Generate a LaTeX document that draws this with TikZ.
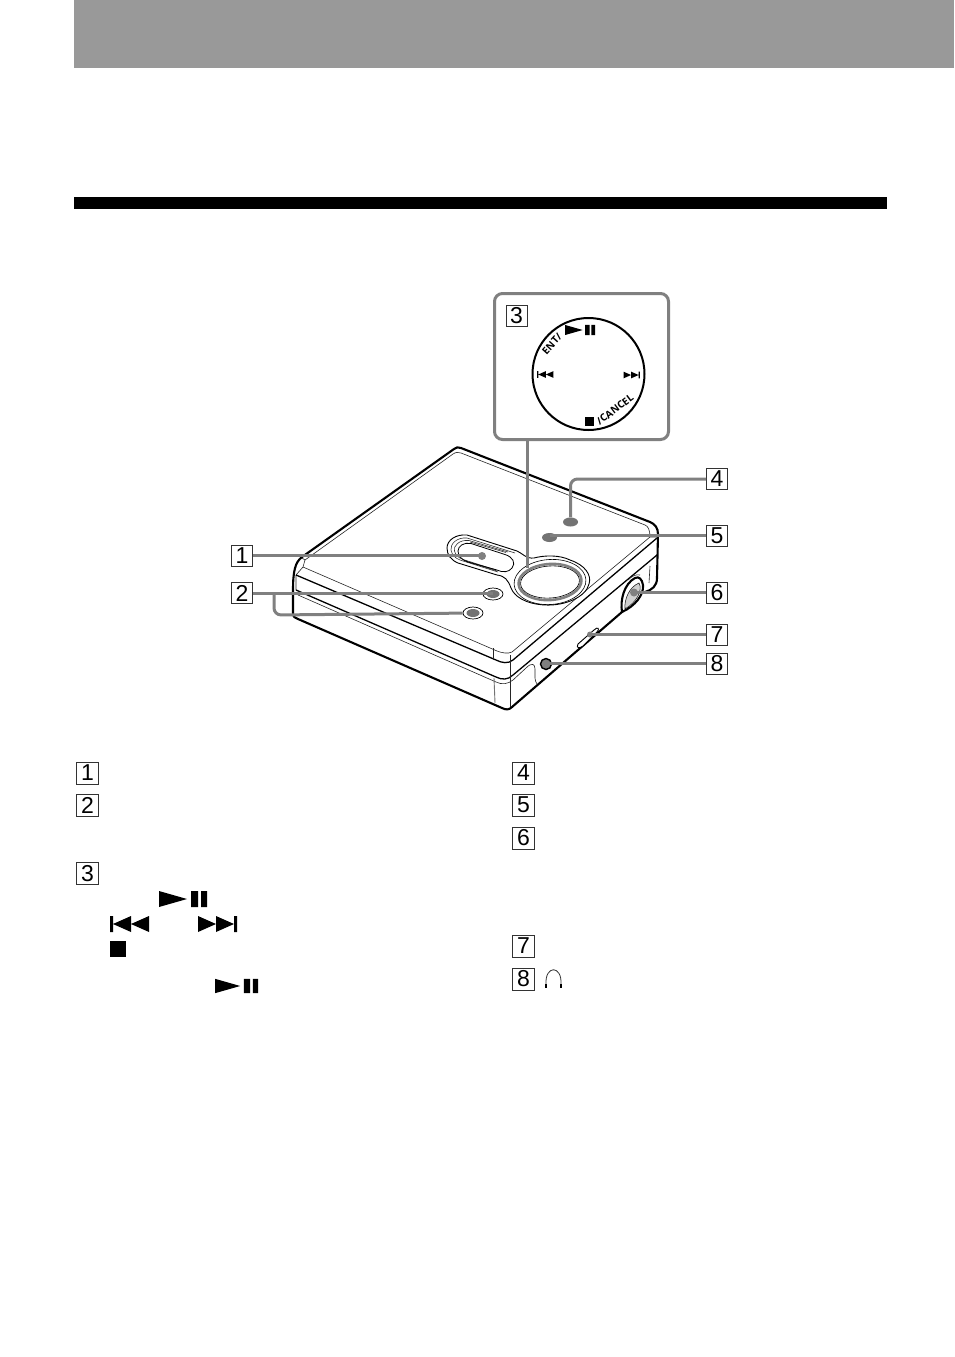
\documentclass[tikz,border=0pt]{standalone}
\usepackage{fontspec}
\setmainfont{Liberation Sans}
\newfontfamily\dialfont{Open Sans}
\usetikzlibrary{shapes.geometric}
\tikzset{
 devline/.style={black,line width=2.1pt,line join=round,line cap=round},
 thinline/.style={black!85,line width=.6pt,line join=round},
 midline/.style={black,line width=1.3pt,line join=round},
 leader/.style={black!50,line width=3pt,rounded corners=7pt},
 numbox/.style={draw=black!80,line width=1pt,fill=white,minimum width=21pt,minimum height=21pt,inner sep=0pt,font=\fontsize{23}{23}\selectfont},
 listbox/.style={numbox,minimum width=22pt,minimum height=22pt},
 btn/.style={ellipse,draw=black,line width=.7pt,fill=white,minimum width=20pt,minimum height=12pt,inner sep=0pt},
 btnface/.style={ellipse,fill=black!55,minimum width=15pt,minimum height=9pt,inner sep=0pt},
 dotn/.style={circle,fill=black!50,minimum size=8pt,inner sep=0pt},
 dialtext/.style={font=\dialfont\bfseries\fontsize{10}{10}\selectfont,inner sep=0pt}
}
\newcommand{\playpause}[3]{\fill[black,shift={(#1,#2)},scale=#3] (0,-8)--(0,8)--(28,0)--cycle (32,-8) rectangle (39,8) (42,-8) rectangle (48,8);}
\newcommand{\nexttr}[3]{\fill[black,shift={(#1,#2)},scale=#3] (0,-8)--(0,8)--(18,0)--cycle (18,-8)--(18,8)--(36,0)--cycle (36,-8) rectangle (39,8);}
\newcommand{\prevtr}[3]{\fill[black,shift={(#1,#2)},scale=#3] (39,-8)--(39,8)--(21,0)--cycle (21,-8)--(21,8)--(3,0)--cycle (0,-8) rectangle (3,8);}
\begin{document}
\begin{tikzpicture}[x=1pt,y=-1pt]
\useasboundingbox (0,0) rectangle (954,1357);
\fill[white] (0,0) rectangle (954,1357);
% header
\fill[black!40] (74,0) rectangle (954,68);
\fill[black] (74,197) rectangle (887,209);
% device outline
\draw[devline] (302,557) -- (454,449) .. controls (456,447) and (458,447) .. (461,448) -- (650,522) .. controls (655,524) and (658,528) .. (658,534) -- (657,578) .. controls (657,586) and (652,590) .. (645,592);
\draw[devline] (302,557) .. controls (295,562) and (293,572) .. (293,590) -- (293,613) .. controls (293,617) and (295,618) .. (298,619) -- (502,708) .. controls (506,710) and (509,710) .. (512,707) -- (622,612);
% lid: thin line
\draw[thinline] (305,560) -- (453,454) .. controls (456,452) and (458,452) .. (461,453) -- (645,525) .. controls (648,526) and (650,530) .. (650,537);
\draw[thinline] (302,558) -- (305,560) -- (303,567) -- (296,575) -- (296,590);
\draw[thinline] (303,567) -- (497,651) .. controls (502,653) and (508,654) .. (512,652) -- (650,537) -- (657,537);
% lid lower edge
\draw[midline] (296,575) -- (496,660) .. controls (502,663) and (508,664) .. (513,660) -- (657,538);
\draw[midline] (296,590) -- (496,677) .. controls (502,680) and (508,680) .. (513,675) -- (657,555);
\draw[thinline] (298,595) -- (496,682) .. controls (502,685) and (508,684) .. (513,680) -- (526,668) .. controls (532,662) and (535,664) .. (535,669) -- (535,678) .. controls (535,681) and (536,682) .. (537,684);
\draw[thinline] (493,648) -- (493,660);
\draw[black!55,line width=.9pt] (494,678) -- (495,703);
\draw[thinline] (510,655) -- (510,707);
\draw[thinline] (650,566) -- (649,583);
% window and dial pad
\draw[line width=.9pt,fill=white] (447,548) .. controls (447,540) and (456,534) .. (467,535) -- (517,551) .. controls (522,553) and (526,559) .. (534,558) .. controls (545,555) and (560,555) .. (570,560) .. controls (585,565) and (592,575) .. (589,584) .. controls (586,597) and (565,606) .. (545,605) .. controls (525,604) and (514,596) .. (511,588) .. controls (508,580) and (505,576) .. (497,575) -- (458,563) .. controls (451,560) and (447,555) .. (447,548) -- cycle;
\draw[black!80,line width=.6pt] (515,553) -- (467,538) .. controls (457,537) and (450,544) .. (451,550) .. controls (452,555) and (455,558) .. (460,560) -- (498,572);
\draw[black!80,line width=.6pt] (508,552) -- (469,540.5) .. controls (459,539.5) and (453,546) .. (454.5,551) .. controls (455.5,555) and (458,557.5) .. (463,559.5) -- (496,570);
\draw[black!80,line width=.6pt] (506,552.5) -- (470,542);
\draw[black!80,line width=.6pt] (464,560.5) -- (497,571);
\draw[line width=.8pt] (471,543.5) -- (505,554.5) .. controls (513,557) and (516,563) .. (512,568) .. controls (509,572) and (503,573) .. (497,570) -- (468,562) .. controls (462,560) and (458,556) .. (458,551) .. controls (458,546) and (464,542) .. (471,543.5) -- cycle;
\begin{scope}[rotate around={4:(550,582)}]
\draw[black,line width=.6pt] (550,582) ellipse (36 and 22.5);
\draw[black!50,line width=2.6pt] (550,582) ellipse (31.5 and 18);
\draw[black,line width=.6pt] (550,582) ellipse (29.5 and 16);
\end{scope}
% buttons
\node[btnface] (b4) at (570.5,522) {};
\node[btnface] (b5) at (549.5,537.5) {};
\node[btn] (b2a) at (493,594) {};
\node[btnface,minimum width=13pt,minimum height=8pt] at (493,594) {};
\node[btn] (b2b) at (473,613) {};
\node[btnface,minimum width=13pt,minimum height=8pt] at (473,613) {};
\node[dotn] (d1) at (482,556) {};
% wheel
\draw[devline,fill=white] (622,612) .. controls (620,600) and (624,584) .. (635,578) .. controls (639,576) and (642,579) .. (643,585) .. controls (644,595) and (635,606) .. (622,612);
\draw[thinline,fill=black!18] (625,609) .. controls (624,600) and (629,587) .. (639,583) .. controls (643,590) and (637,602) .. (625,609);
\draw[thinline] (628,580) .. controls (632,576) and (636,574) .. (640,575);
\node[dotn] (d6) at (634,592.5) {};
% slider
\draw[line width=.9pt,fill=white] (578,644) -- (594,630) .. controls (598,626) and (600,629) .. (597,632) -- (583,646) .. controls (579,649) and (576,648) .. (578,644);
\node[dotn,minimum size=6pt] (d7) at (590,634.5) {};
% jack
\node[circle,draw=black,line width=1.4pt,fill=black!50,minimum size=11pt,inner sep=0pt] (d8) at (546,664) {};
% number boxes
\node[numbox] (n1) at (242,555.5) {1};
\node[numbox] (n2) at (242,593) {2};
\node[numbox] (n4) at (717,479) {4};
\node[numbox] (n5) at (717,535.5) {5};
\node[numbox] (n6) at (717,592.5) {6};
\node[numbox] (n7) at (717,634.5) {7};
\node[numbox] (n8) at (717,663.5) {8};
% inset
\node[draw=black!50,line width=3pt,rounded corners=8pt,fill=white,minimum width=174pt,minimum height=146pt,inner sep=0pt] (inset) at (581.5,366.5) {};
\coordinate (insetfoot) at (527,441);
\coordinate (ringtop) at (527,568);
\node[numbox] (n3) at (516.5,315.5) {3};
\node[circle,draw=black,line width=2pt,minimum size=112pt,inner sep=0pt] (dial) at (588.5,374) {};
\playpause{565}{330}{.63}
\prevtr{537}{374.5}{.42}
\nexttr{623.5}{375}{.42}
\fill[black] (585,417) rectangle (594,426);
\node[dialtext,rotate=48] (ent) at (552,344) {ENT/};
\node[dialtext,rotate=37] (can) at (615,409.5) {/CANCEL};
% leaders
\draw[leader] (n1.east) -- (n1.east -| d1);
\draw[leader] (n2.east) -- (n2.east -| b2a);
\draw[leader] (274,593) -- (274,615) -- (b2b);
\draw[leader] (insetfoot) -- (ringtop);
\draw[leader] (n4.west) -| (b4);
\draw[leader] (n5.west) -- (n5.west -| b5);
\draw[leader] (n6.west) -- (n6.west -| d6);
\draw[leader] (n7.west) -- (n7.west -| d7);
\draw[leader] (n8.west) -- (n8.west -| d8);
% list
\node[listbox] (l1) at (87.5,773) {1};
\node[listbox] (l2) at (87.5,805.5) {2};
\node[listbox] (l3) at (87.5,873.5) {3};
\node[listbox] (l4) at (523.5,773) {4};
\node[listbox] (l5) at (523.5,805) {5};
\node[listbox] (l6) at (523.5,838) {6};
\node[listbox] (l7) at (523.5,946) {7};
\node[listbox] (l8) at (523.5,979) {8};
\playpause{159}{899}{1}
\prevtr{110}{924}{1}
\nexttr{198}{924}{1}
\fill[black] (110,941) rectangle (126,957);
\playpause{215}{986}{.9}
% headphones
\draw[black!80,line width=.8pt] (546,984) .. controls (545,965) and (562,965) .. (561,984);
\draw[black,line width=1.4pt] (546,984) -- (546,988) (561,984) -- (561,988);
\end{tikzpicture}
\end{document}
